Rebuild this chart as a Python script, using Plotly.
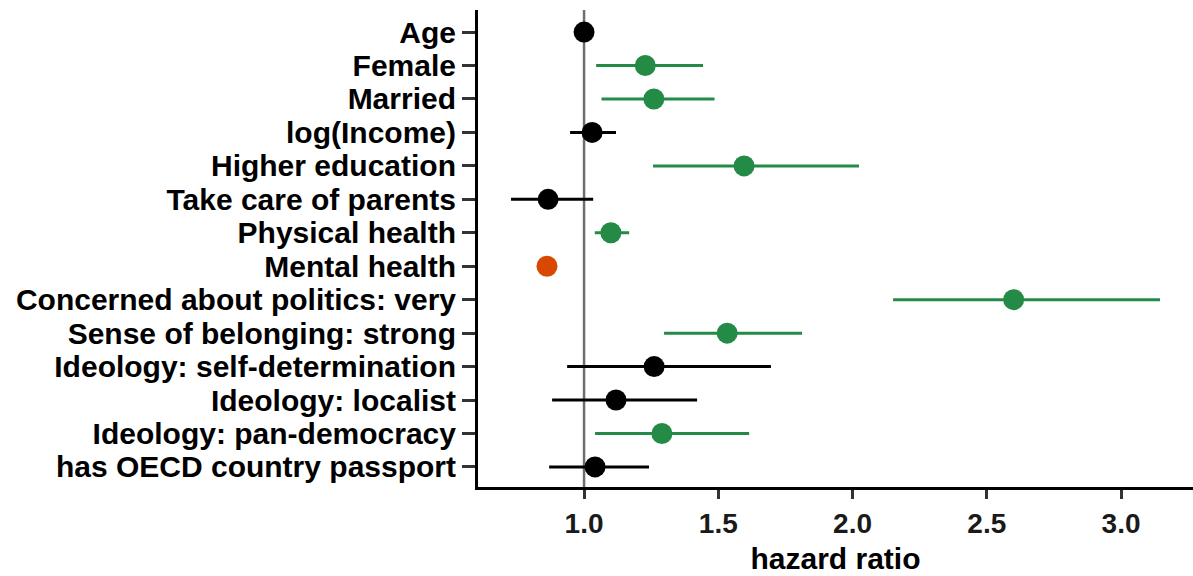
import plotly.graph_objects as go

# Hazard ratios with 95% confidence intervals
terms = [
    "Age", "Female", "Married", "log(Income)", "Higher education",
    "Take care of parents", "Physical health", "Mental health",
    "Concerned about politics: very", "Sense of belonging: strong",
    "Ideology: self-determination", "Ideology: localist",
    "Ideology: pan-democracy", "has OECD country passport",
]
hr = [1.00, 1.228, 1.260, 1.030, 1.596, 0.866, 1.100, 0.862,
      2.600, 1.533, 1.261, 1.119, 1.290, 1.041]
ci_low = [0.990, 1.045, 1.065, 0.948, 1.257, 0.728, 1.040, 0.840,
          2.151, 1.298, 0.937, 0.881, 1.041, 0.870]
ci_high = [1.010, 1.443, 1.486, 1.119, 2.024, 1.034, 1.168, 0.885,
           3.145, 1.812, 1.696, 1.421, 1.615, 1.242]
x_ticks = [1.0, 1.5, 2.0, 2.5, 3.0]
x_tick_labels = ["1.0", "1.5", "2.0", "2.5", "3.0"]

GREEN = "#238b45"
ORANGE = "#d94801"
BLACK = "#000000"


def colour(lo, hi):
    if lo > 1:
        return GREEN
    if hi < 1:
        return ORANGE
    return BLACK


fig = go.Figure()

# reference line at HR = 1
fig.add_vline(x=1.0, line=dict(color="#6e6e6e", width=2.5), layer="below")

for t, h, lo, hi in zip(terms, hr, ci_low, ci_high):
    c = colour(lo, hi)
    fig.add_trace(go.Scatter(
        x=[h], y=[t], mode="markers",
        marker=dict(size=21, color=c),
        error_x=dict(type="data", symmetric=False,
                     array=[hi - h], arrayminus=[h - lo],
                     width=0, thickness=3, color=c),
        showlegend=False,
    ))

font_family = "Liberation Sans, Arial, sans-serif"

fig.update_layout(
    width=1193, height=576,
    margin=dict(l=478, r=0, t=10, b=89),
    plot_bgcolor="white", paper_bgcolor="white",
    font=dict(family=font_family, size=28, color="black"),
    xaxis=dict(
        range=[0.605, 3.268],
        tickvals=x_ticks,
        ticktext=x_tick_labels,
        showgrid=False, zeroline=False,
        showline=True, linecolor="black", linewidth=3,
        ticks="outside", ticklen=9, tickwidth=3, tickcolor="#333333",
        tickfont=dict(family=font_family, size=28, color="#1a1a1a", weight="bold"),
        title=dict(text="<b>hazard ratio</b>", font=dict(size=30), standoff=11),
    ),
    yaxis=dict(
        type="category",
        categoryorder="array", categoryarray=terms,
        tickmode="array", tickvals=terms, ticktext=terms,
        range=[13.6, -0.66],
        showgrid=False, zeroline=False,
        showline=True, linecolor="black", linewidth=3,
        ticks="outside", ticklen=13, tickwidth=3, tickcolor="#333333",
        tickfont=dict(family=font_family, size=30, color="black", weight="bold"),
    ),
)

fig.write_html("out.html")
